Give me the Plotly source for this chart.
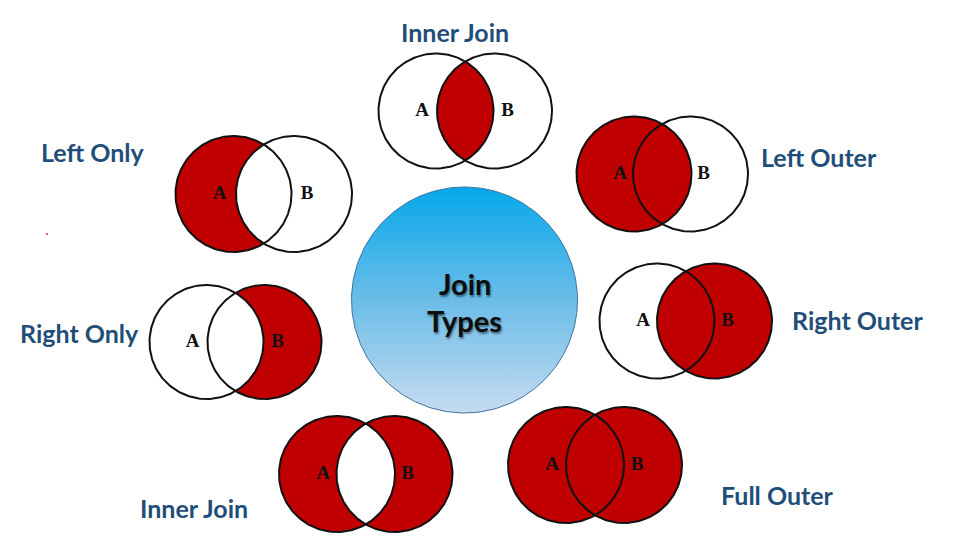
import numpy as np
import plotly.graph_objects as go

# Venn diagrams around the central "Join Types" circle (pixel-like units, y down)
titles = ["Inner Join", "Left Only", "Left Outer", "Right Only", "Right Outer", "Inner Join", "Full Outer"]
modes = ["inner", "left_only", "left_outer", "right_only", "right_outer", "outer_only", "full"]
ax = [436, 233.5, 634, 206.5, 657, 337, 566]      # centre x of circle A
bx = [494.5, 294, 690.5, 264.5, 714.5, 394.5, 624]  # centre x of circle B
cy = [111, 194, 174, 342, 321, 474, 465]
radius = [57.5, 58, 57.5, 57, 57.5, 58, 58]
title_x = [455, 93, 819, 79, 857, 194, 777]
title_y = [32, 152, 157, 333, 320, 508, 495]

hub_x, hub_y, hub_r = 464.5, 300, 113
hub_words = ["Join", "Types"]

RED = "#C00000"
NAVY = "#1F4E79"


def arc(x0, y0, r, t0, t1, n=120):
    t = np.linspace(t0, t1, n)
    return list(x0 + r * np.cos(t)), list(y0 + r * np.sin(t))


fig = go.Figure()


def add_fill(xs, ys):
    fig.add_trace(go.Scatter(x=xs, y=ys, mode="lines", fill="toself", fillcolor=RED,
                             line=dict(width=0), hoverinfo="skip", showlegend=False))


for i in range(len(titles)):
    x1, x2, y0, r = ax[i], bx[i], cy[i], radius[i]
    a = (x2 - x1) / 2
    th = np.arccos(a / r)
    m = modes[i]
    if m == "inner":
        xa, ya = arc(x1, y0, r, -th, th)
        xb, yb = arc(x2, y0, r, np.pi - th, np.pi + th)
        add_fill(xa + xb, ya + yb)
    if m in ("left_only", "outer_only"):
        xa, ya = arc(x1, y0, r, th, 2 * np.pi - th)
        xb, yb = arc(x2, y0, r, np.pi + th, np.pi - th)
        add_fill(xa + xb, ya + yb)
    if m in ("right_only", "outer_only"):
        xb, yb = arc(x2, y0, r, th - np.pi, np.pi - th)
        xa, ya = arc(x1, y0, r, th, -th)
        add_fill(xb + xa, yb + ya)
    if m in ("left_outer", "full"):
        xa, ya = arc(x1, y0, r, 0, 2 * np.pi)
        add_fill(xa, ya)
    if m in ("right_outer", "full"):
        xb, yb = arc(x2, y0, r, 0, 2 * np.pi)
        add_fill(xb, yb)
    # outlines
    for cx in (x1, x2):
        xo, yo = arc(cx, y0, r, 0, 2 * np.pi, 200)
        fig.add_trace(go.Scatter(x=xo, y=yo, mode="lines", line=dict(color="#111111", width=2),
                                 hoverinfo="skip", showlegend=False))
    # A / B letters
    fig.add_trace(go.Scatter(x=[x1 - 14, x2 + 13], y=[y0, y0], mode="text", text=["A", "B"],
                             textfont=dict(family="Liberation Serif", size=19, color="#111111",
                                           weight="bold"),
                             hoverinfo="skip", showlegend=False))
    fig.add_annotation(x=title_x[i], y=title_y[i], text=titles[i], showarrow=False,
                       font=dict(family="Lato", size=25, color=NAVY, weight="bold"))

# central hub with vertical gradient (blue at top, pale at bottom)
hx, hy = arc(hub_x, hub_y, hub_r, 0, 2 * np.pi, 300)
fig.add_trace(go.Scatter(x=hx, y=hy, mode="lines", fill="toself",
                         fillgradient=dict(type="vertical",
                                           colorscale=[[0, "#C6DBF1"], [0.5, "#6BBDE8"], [1, "#06A8EA"]]),
                         line=dict(color="#41719C", width=1), hoverinfo="skip", showlegend=False))
for word, wy in zip(hub_words, [283, 320]):
    fig.add_annotation(x=hub_x, y=wy, text=word, showarrow=False,
                       font=dict(family="Lato", size=29, color="#0D0D0D", weight="bold",
                                 shadow="1px 2px 2px rgba(0,0,0,0.45)"))

# stray dot
fig.add_trace(go.Scatter(x=[47], y=[234], mode="markers", marker=dict(size=2, color="#D03030"),
                         hoverinfo="skip", showlegend=False))

fig.update_xaxes(range=[0, 953], visible=False)
fig.update_yaxes(range=[554, 0], visible=False)
fig.update_layout(width=953, height=554, margin=dict(l=0, r=0, t=0, b=0),
                  plot_bgcolor="white", paper_bgcolor="white")

fig.write_html("out.html", config={"displayModeBar": False},
               post_script="document.body.style.margin='0';")
